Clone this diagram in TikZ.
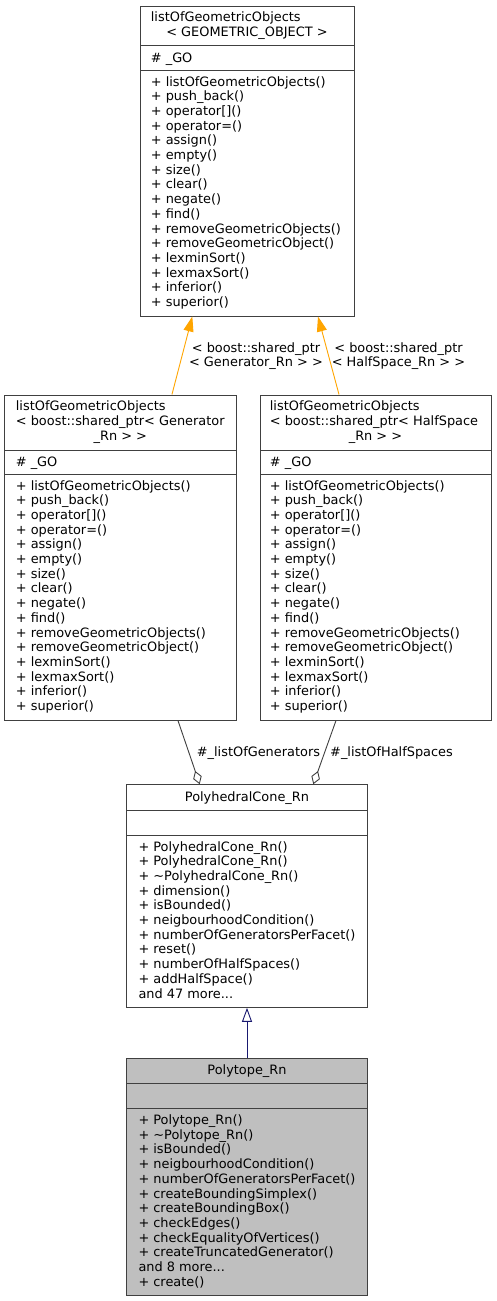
\documentclass[tikz,border=0pt]{standalone}
\usepackage{fontspec}
\setmainfont{DejaVu Sans}
\usetikzlibrary{arrows.meta}

\definecolor{edgegray}{RGB}{64,64,64}
\definecolor{boxfill}{RGB}{191,191,191}
\definecolor{navyline}{RGB}{25,25,112}
\definecolor{templorange}{RGB}{255,165,0}

\newcommand{\memberlist}[1]{\begin{tabular}[t]{@{}l@{}}#1\end{tabular}}
\newcommand{\centerlist}[1]{\begin{tabular}[t]{@{}c@{}}#1\end{tabular}}

\tikzset{
    classbox/.style={draw=edgegray, line width=1pt, fill=white, inner sep=0pt},
    divider/.style={draw=edgegray, line width=1pt},
    member/.style={anchor=base west, inner sep=0pt, font=\fontsize{12.9}{14.7}\selectfont},
    title/.style={anchor=base, inner sep=0pt, font=\fontsize{12.9}{14.7}\selectfont},
    templarrow/.style={draw=templorange, line width=0.9pt, -{Triangle[length=15pt,width=10pt]}},
    aggrarrow/.style={draw=edgegray, line width=0.9pt, -{Diamond[open,length=14pt,width=9pt]}},
    inheritarrow/.style={draw=navyline, line width=0.9pt, -{Triangle[open,length=14pt,width=10pt]}},
}

\begin{document}
\begin{tikzpicture}[x=1pt, y=-1pt]
    \fill[white] (0,0) rectangle (496,1301);
    \useasboundingbox (0,0) rectangle (496,1301);

    % template class
    \node[classbox, minimum width=214pt, minimum height=310pt] (gotempl) at (247,161) {};
    \draw[divider] (140,45.7) -- (354,45.7);
    \draw[divider] (140,70.7) -- (354,70.7);
    \node[member] (gotempltitle) at (150.7,21.2) {listOfGeometricObjects};
    \node[title] (gotemplarg) at (247,36) {< GEOMETRIC\_OBJECT >};
    \node[member] (gotemplattr) at (150.7,62) {\# \_GO};
    \node[member] (gotemplops) at (150.7,86) {\memberlist{%
        + listOfGeometricObjects()\\ + push\_back()\\ + operator[]()\\ + operator=()\\
        + assign()\\ + empty()\\ + size()\\ + clear()\\ + negate()\\ + find()\\
        + removeGeometricObjects()\\ + removeGeometricObject()\\ + lexminSort()\\
        + lexmaxSort()\\ + inferior()\\ + superior()}};

    % generator list
    \node[classbox, minimum width=231.3pt, minimum height=325pt] (gogen) at (120.35,557.5) {};
    \draw[divider] (4.7,450) -- (236,450);
    \draw[divider] (4.7,474.3) -- (236,474.3);
    \node[member] (gogentitle) at (15.7,410.8) {\memberlist{listOfGeometricObjects\\ < boost::shared\_ptr< Generator}};
    \node[title] (gogenarg) at (120.35,440.2) {\_Rn > >};
    \node[member] (gogenattr) at (15.7,466) {\# \_GO};
    \node[member] (gogenops) at (15.7,490) {\memberlist{%
        + listOfGeometricObjects()\\ + push\_back()\\ + operator[]()\\ + operator=()\\
        + assign()\\ + empty()\\ + size()\\ + clear()\\ + negate()\\ + find()\\
        + removeGeometricObjects()\\ + removeGeometricObject()\\ + lexminSort()\\
        + lexmaxSort()\\ + inferior()\\ + superior()}};

    % half space list
    \node[classbox, minimum width=231pt, minimum height=325pt] (gohalf) at (375.5,557.5) {};
    \draw[divider] (260,450) -- (491,450);
    \draw[divider] (260,474.3) -- (491,474.3);
    \node[member] (gohalftitle) at (269.7,410.8) {\memberlist{listOfGeometricObjects\\ < boost::shared\_ptr< HalfSpace}};
    \node[title] (gohalfarg) at (375.5,440.2) {\_Rn > >};
    \node[member] (gohalfattr) at (269.7,466) {\# \_GO};
    \node[member] (gohalfops) at (269.7,490) {\memberlist{%
        + listOfGeometricObjects()\\ + push\_back()\\ + operator[]()\\ + operator=()\\
        + assign()\\ + empty()\\ + size()\\ + clear()\\ + negate()\\ + find()\\
        + removeGeometricObjects()\\ + removeGeometricObject()\\ + lexminSort()\\
        + lexmaxSort()\\ + inferior()\\ + superior()}};

    % cone
    \node[classbox, minimum width=240.5pt, minimum height=222.6pt] (cone) at (247,896) {};
    \draw[divider] (126.75,810) -- (367.25,810);
    \draw[divider] (126.75,835) -- (367.25,835);
    \node[title] (conetitle) at (247,801) {PolyhedralCone\_Rn};
    \node[member] (coneops) at (138.3,851) {\memberlist{%
        + PolyhedralCone\_Rn()\\ + PolyhedralCone\_Rn()\\ + \textasciitilde PolyhedralCone\_Rn()\\
        + dimension()\\ + isBounded()\\ + neigbourhoodCondition()\\
        + numberOfGeneratorsPerFacet()\\ + reset()\\ + numberOfHalfSpaces()\\
        + addHalfSpace()\\ and 47 more...}};

    % polytope
    \node[classbox, fill=boxfill, minimum width=240.5pt, minimum height=236.7pt] (polytope) at (247,1176.65) {};
    \draw[divider] (126.75,1083.3) -- (367.25,1083.3);
    \draw[divider] (126.75,1108.3) -- (367.25,1108.3);
    \node[title] (polytopetitle) at (247,1074.5) {Polytope\_Rn};
    \node[member] (polytopeops) at (138.3,1124.5) {\memberlist{%
        + Polytope\_Rn()\\ + \textasciitilde Polytope\_Rn()\\ + isBounded()\\
        + neigbourhoodCondition()\\ + numberOfGeneratorsPerFacet()\\
        + createBoundingSimplex()\\ + createBoundingBox()\\ + checkEdges()\\
        + checkEqualityOfVertices()\\ + createTruncatedGenerator()\\
        and 8 more...\\ + create()}};

    % template instances
    \draw[templarrow] ([xshift=51.6pt]gogen.north) -- ([xshift=-54.7pt]gotempl.south);
    \draw[templarrow] ([xshift=-36.5pt]gohalf.north) -- ([xshift=71pt]gotempl.south);
    \node[title] (genlabel) at (256,352) {\centerlist{< boost::shared\_ptr\\ < Generator\_Rn > >}};
    \node[title] (halflabel) at (398.5,352) {\centerlist{< boost::shared\_ptr\\ < HalfSpace\_Rn > >}};

    % members
    \draw[aggrarrow] ([xshift=57.6pt]gogen.south) -- ([xshift=-47.3pt]cone.north);
    \draw[aggrarrow] ([xshift=-39.5pt]gohalf.south) -- ([xshift=66.3pt]cone.north);
    \node[member] (genmember) at (196.7,756) {\#\_listOfGenerators};
    \node[member] (halfmember) at (330,756) {\#\_listOfHalfSpaces};

    % base class
    \draw[inheritarrow] (polytope.north) -- (cone.south);
\end{tikzpicture}
\end{document}
